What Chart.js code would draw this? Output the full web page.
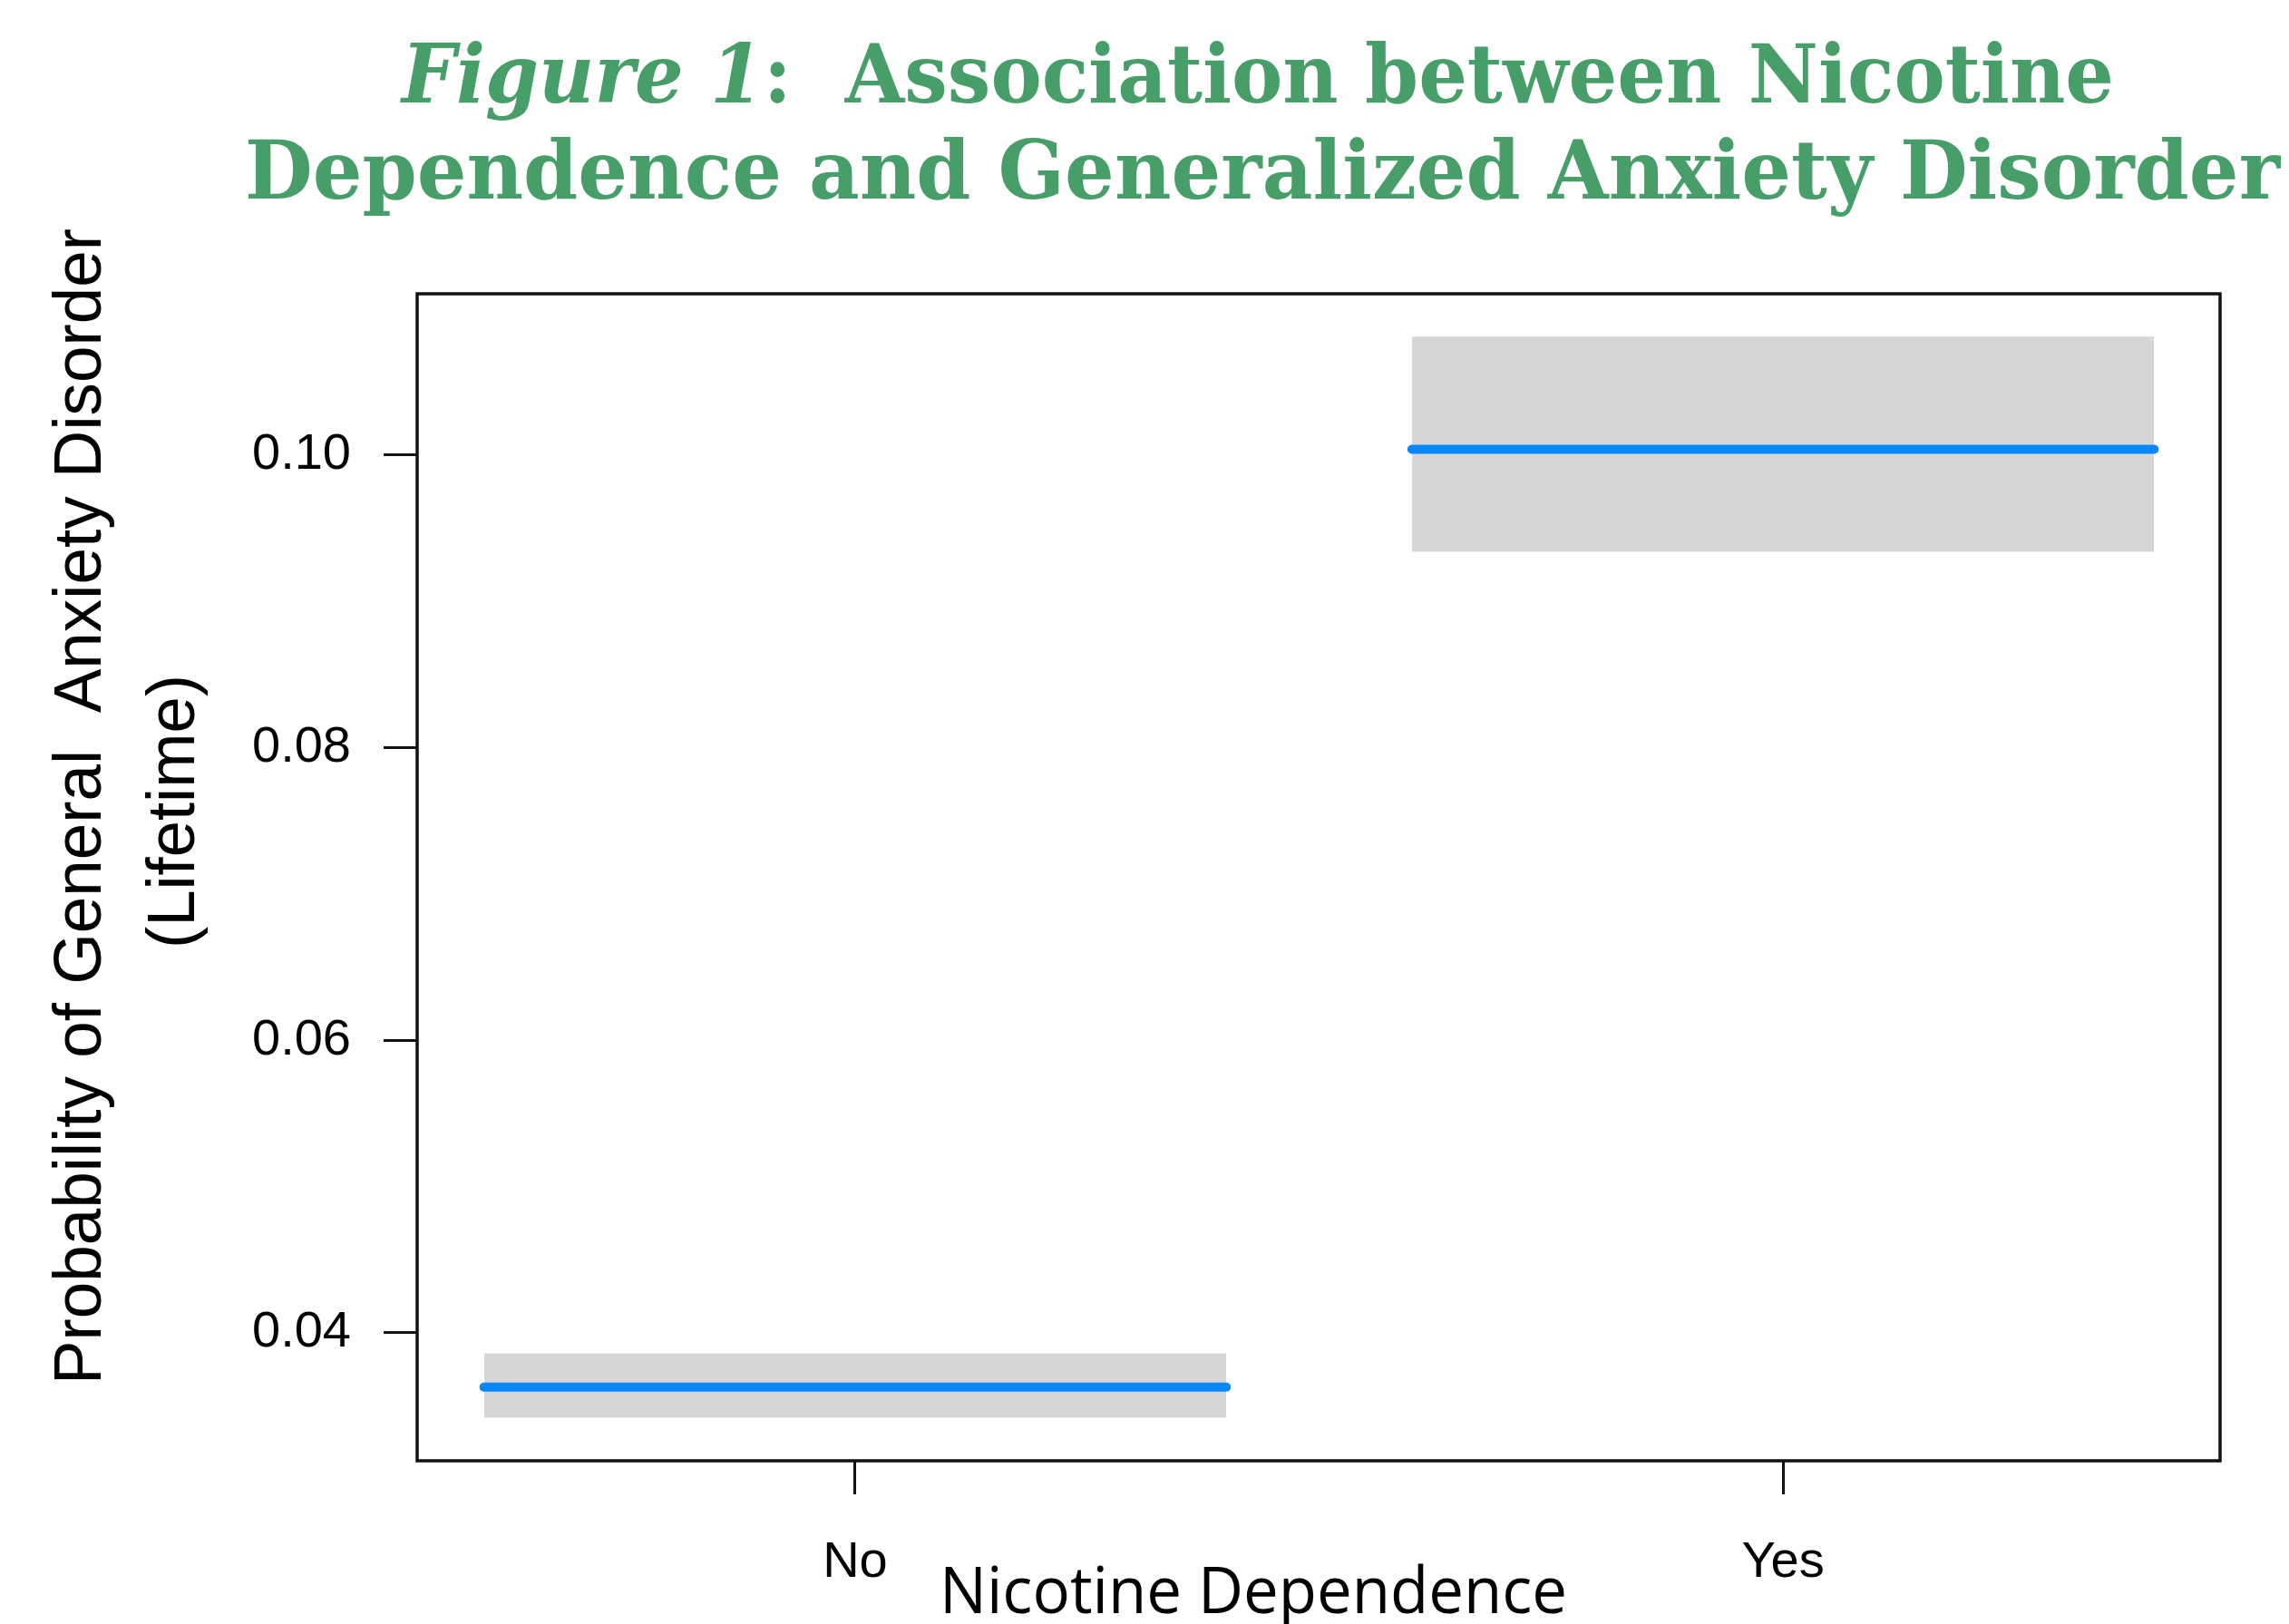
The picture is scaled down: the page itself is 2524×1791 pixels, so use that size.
<!DOCTYPE html>
<html>
<head>
<meta charset="utf-8">
<title>Nicotine Dependence and Generalized Anxiety Disorder</title>
<script src="https://cdn.jsdelivr.net/npm/chart.js@4.4.1/dist/chart.umd.min.js"></script>
<style>
  html, body { margin: 0; padding: 0; background: #ffffff; }
  #wrap { width: 2524px; height: 1791px; position: relative; }
</style>
</head>
<body>
<div id="wrap"><canvas id="chart"></canvas></div>
<script>
// Groups on the x axis and their positions on the linear scale
const groups = ['No', 'Yes'];
const groupPositions = [1, 2];

// Predicted probability of lifetime GAD with its confidence band
const estimate = [0.0363, 0.1004];
const lowerCI  = [0.0342, 0.0934];
const upperCI  = [0.0386, 0.1081];

// Y axis tick values
const yTickValues = [0.04, 0.06, 0.08, 0.10];

// Text
const titleItalic = 'Figure 1';
const titleLine1 = ':  Association between Nicotine';
const titleLine2 = 'Dependence and Generalized Anxiety Disorder';
const yTitleLines = ['Probability of General  Anxiety Disorder', '(Lifetime)'];
const xTitle = 'Nicotine Dependence';

const GREEN = '#479e69';
const BLUE = '#0787fb';
const BAND = '#d6d6d6';
const BAND_HALF_WIDTH = 0.4;

// Build datasets: a lower/upper pair per group filled between, then the estimate lines
const datasets = [];
groups.forEach((g, i) => {
  const x0 = groupPositions[i] - BAND_HALF_WIDTH;
  const x1 = groupPositions[i] + BAND_HALF_WIDTH;
  datasets.push({
    label: g + ' lower',
    data: [{ x: x0, y: lowerCI[i] }, { x: x1, y: lowerCI[i] }],
    borderWidth: 0, pointRadius: 0, fill: false, order: 2,
    borderColor: 'rgba(0,0,0,0)'
  });
  datasets.push({
    label: g + ' upper',
    data: [{ x: x0, y: upperCI[i] }, { x: x1, y: upperCI[i] }],
    borderWidth: 0, pointRadius: 0, fill: '-1', order: 2,
    borderColor: 'rgba(0,0,0,0)', backgroundColor: BAND
  });
});
groups.forEach((g, i) => {
  const x0 = groupPositions[i] - BAND_HALF_WIDTH;
  const x1 = groupPositions[i] + BAND_HALF_WIDTH;
  datasets.push({
    label: g + ' estimate',
    data: [{ x: x0, y: estimate[i] }, { x: x1, y: estimate[i] }],
    borderColor: BLUE, borderWidth: 10, borderCapStyle: 'round',
    pointRadius: 0, fill: false, order: 0
  });
});

// Draws a run of text segments squeezed/stretched to a given width
function fitText(ctx, parts, left, baseline, width) {
  let total = 0;
  parts.forEach(p => { ctx.font = p.font; p.w = ctx.measureText(p.text).width; total += p.w; });
  ctx.save();
  ctx.translate(left, baseline);
  ctx.scale(width / total, 1);
  ctx.textAlign = 'left';
  ctx.textBaseline = 'alphabetic';
  let x = 0;
  parts.forEach(p => { ctx.font = p.font; ctx.fillText(p.text, x, 0); x += p.w; });
  ctx.restore();
}

const decorations = {
  id: 'decorations',
  afterDraw(chart) {
    const ctx = chart.ctx;
    const a = chart.chartArea;

    // plot frame
    ctx.save();
    ctx.strokeStyle = '#111111';
    ctx.lineWidth = 3.5;
    ctx.strokeRect(a.left, a.top, a.right - a.left, a.bottom - a.top);
    ctx.restore();

    // title
    ctx.save();
    ctx.fillStyle = GREEN;
    const tf = '89px "DejaVu Serif"';
    fitText(ctx, [
      { text: titleItalic, font: 'italic bold ' + tf },
      { text: titleLine1, font: 'bold ' + tf }
    ], 443, 113, 1888);
    fitText(ctx, [{ text: titleLine2, font: 'bold ' + tf }], 270, 219, 2244);
    ctx.restore();

    // y axis title (rotated)
    ctx.save();
    ctx.fillStyle = '#000000';
    ctx.rotate(-Math.PI / 2);
    fitText(ctx, [{ text: yTitleLines[0], font: '75px "Liberation Sans"' }], -1527, 111, 1275);
    fitText(ctx, [{ text: yTitleLines[1], font: '75px "Liberation Sans"' }], -1046, 214, 302);
    ctx.restore();

    // x axis title
    ctx.save();
    ctx.fillStyle = '#000000';
    fitText(ctx, [{ text: xTitle, font: '71px "Open Sans"' }], 1036, 1779, 692);
    ctx.restore();
  }
};

new Chart(document.getElementById('chart'), {
  type: 'line',
  data: { datasets },
  plugins: [decorations],
  options: {
    responsive: true,
    maintainAspectRatio: false,
    animation: false,
    layout: { padding: { top: 324, right: 76, left: 0, bottom: 0 } },
    plugins: { legend: { display: false }, tooltip: { enabled: false }, title: { display: false } },
    scales: {
      x: {
        type: 'linear',
        min: 0.528,
        max: 2.471,
        border: { display: false },
        grid: { drawOnChartArea: false, drawTicks: true, tickLength: 37, tickWidth: 3, tickColor: '#111111' },
        ticks: {
          autoSkip: false, maxRotation: 0, padding: 42, color: '#000000',
          font: { family: '"Liberation Sans"', size: 56 },
          callback: (v) => {
            const i = groupPositions.indexOf(v);
            return i >= 0 ? groups[i] : '';
          }
        },
        afterBuildTicks: (axis) => { axis.ticks = groupPositions.map(v => ({ value: v })); },
        afterFit: (axis) => { axis.height = 180; }
      },
      y: {
        type: 'linear',
        min: 0.03126,
        max: 0.11103,
        border: { display: false },
        grid: { drawOnChartArea: false, drawTicks: true, tickLength: 37, tickWidth: 3, tickColor: '#111111' },
        ticks: {
          autoSkip: false, padding: 36, color: '#000000',
          font: { family: '"Liberation Sans"', size: 56 },
          callback: (v) => Number(v).toFixed(2)
        },
        afterBuildTicks: (axis) => { axis.ticks = yTickValues.map(v => ({ value: v })); },
        afterFit: (axis) => { axis.width = 460; }
      }
    }
  }
});
</script>
</body>
</html>
